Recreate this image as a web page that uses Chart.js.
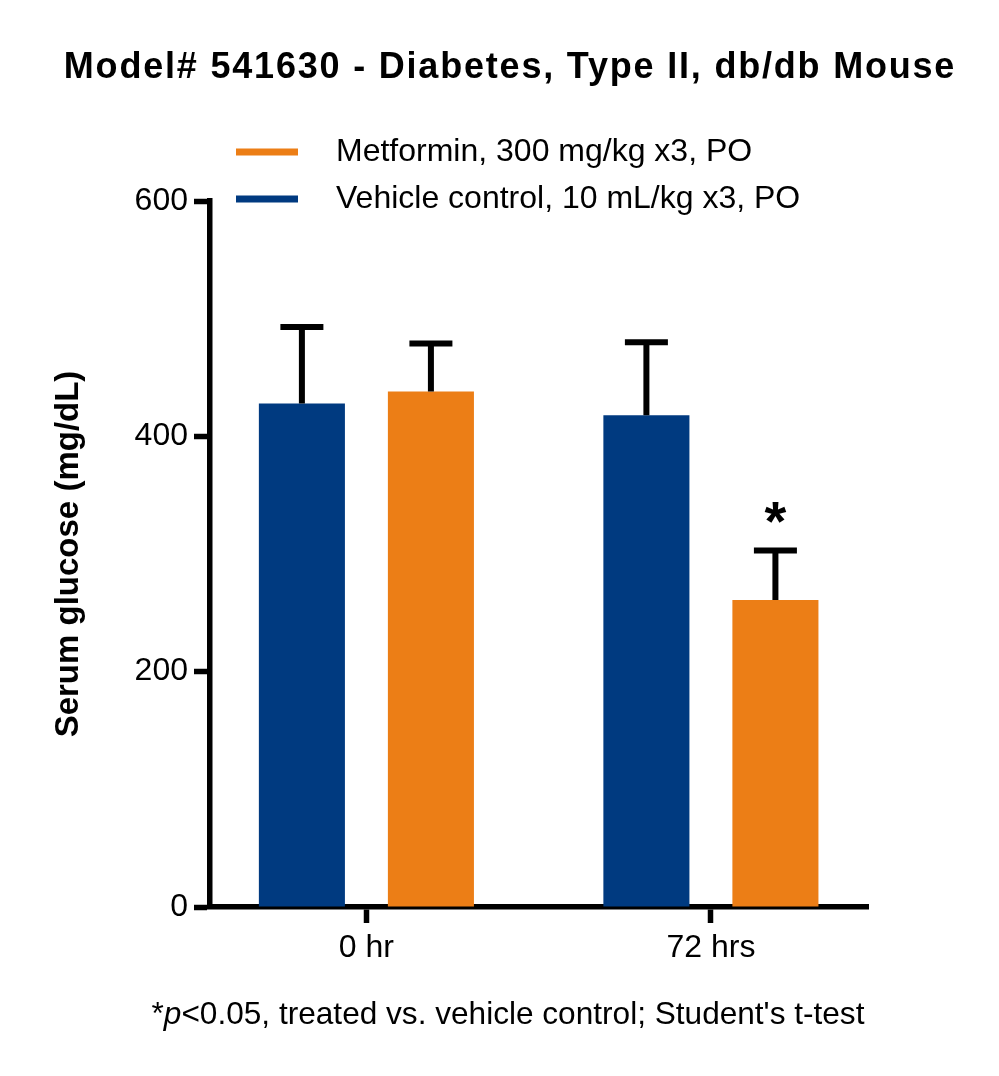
<!DOCTYPE html>
<html>
<head>
<meta charset="utf-8">
<title>Model# 541630 - Diabetes, Type II, db/db Mouse</title>
<script src="https://cdn.jsdelivr.net/npm/chart.js@4.4.0/dist/chart.umd.min.js"></script>
<style>
    body { margin: 0; background: #fff; }
    #wrap { width: 999px; height: 1076px; }
</style>
</head>
<body>
<div id="wrap"><canvas id="glucose-chart" width="999" height="1076"></canvas></div>
<script>
const categories = ['0 hr', '72 hrs']
const yTicks = [0, 200, 400, 600]
const vehicleMeans = [428, 418]
const vehicleErrors = [65, 62]
const metforminMeans = [438, 261]
const metforminErrors = [41, 42]
const metforminSignificant = [false, true]

const chartTitle = 'Model# 541630 - Diabetes, Type II, db/db Mouse'
const footnote = ['*', 'p', '<0.05, treated vs. vehicle control; Student\'s t-test']
const fontFamily = '"Liberation Sans", Arial, Helvetica, sans-serif'

Chart.defaults.font.family = fontFamily
Chart.defaults.color = '#000'

function toPoints(values) {
    return values.map((v, i) => ({ x: i, y: v }))
}

// error bars (upper only) + significance stars
const errorBarPlugin = {
    id: 'errorBars',
    afterDatasetsDraw(chart) {
        const ctx = chart.ctx
        const yScale = chart.scales.y
        chart.data.datasets.forEach((ds, di) => {
            const meta = chart.getDatasetMeta(di)
            meta.data.forEach((bar, i) => {
                const top = yScale.getPixelForValue(ds.data[i].y + ds.errors[i])
                ctx.save()
                ctx.strokeStyle = '#000'
                ctx.lineWidth = 6
                ctx.beginPath()
                ctx.moveTo(bar.x, bar.y)
                ctx.lineTo(bar.x, top)
                ctx.moveTo(bar.x - 21.5, top)
                ctx.lineTo(bar.x + 21.5, top)
                ctx.stroke()
                if (ds.significant && ds.significant[i]) {
                    ctx.fillStyle = '#000'
                    ctx.font = 'bold 56px ' + fontFamily
                    ctx.textAlign = 'center'
                    ctx.textBaseline = 'alphabetic'
                    ctx.fillText('*', bar.x, top - 10)
                }
                ctx.restore()
            })
        })
    }
}

// title, stacked legend and footnote
const textPlugin = {
    id: 'chartTexts',
    afterDraw(chart) {
        const ctx = chart.ctx
        ctx.save()
        ctx.fillStyle = '#000'
        ctx.textBaseline = 'middle'

        ctx.font = 'bold 36px ' + fontFamily
        ctx.textAlign = 'center'
        ctx.letterSpacing = '1.8px'
        ctx.fillText(chartTitle, 510, 68)
        ctx.letterSpacing = '0px'

        const legendOrder = chart.data.datasets.slice().reverse()
        ctx.font = '32px ' + fontFamily
        ctx.textAlign = 'left'
        legendOrder.forEach((ds, i) => {
            const y = 152 + i * 47
            ctx.strokeStyle = ds.backgroundColor
            ctx.lineWidth = 7
            ctx.beginPath()
            ctx.moveTo(236, y)
            ctx.lineTo(298, y)
            ctx.stroke()
            ctx.fillText(ds.label, 336, y)
        })

        const fonts = ['31.6px ', 'italic 31.6px ', '31.6px '].map(f => f + fontFamily)
        let total = 0
        footnote.forEach((part, i) => {
            ctx.font = fonts[i]
            total += ctx.measureText(part).width
        })
        let x = 508 - total / 2
        footnote.forEach((part, i) => {
            ctx.font = fonts[i]
            ctx.fillText(part, x, 1015)
            x += ctx.measureText(part).width
        })
        ctx.restore()
    }
}

document.addEventListener('DOMContentLoaded', function () {
    var ctx = document.getElementById('glucose-chart').getContext('2d')

    var data = {
        datasets: [{
            label: 'Vehicle control, 10 mL/kg x3, PO',
            data: toPoints(vehicleMeans),
            errors: vehicleErrors,
            backgroundColor: '#003A80',
            borderWidth: 0
        }, {
            label: 'Metformin, 300 mg/kg x3, PO',
            data: toPoints(metforminMeans),
            errors: metforminErrors,
            significant: metforminSignificant,
            backgroundColor: '#EC7E16',
            borderWidth: 0
        }]
    }

    var options = {
        responsive: false,
        animation: false,
        devicePixelRatio: 1,
        categoryPercentage: 0.749,
        barPercentage: 0.667,
        layout: {
            padding: { top: 201, right: 131, bottom: 0, left: 0 }
        },
        plugins: {
            legend: { display: false },
            tooltip: { enabled: false },
            title: { display: false }
        },
        scales: {
            x: {
                type: 'linear',
                min: -0.454,
                max: 1.456,
                offset: false,
                afterBuildTicks: (axis) => {
                    axis.ticks = categories.map((c, i) => ({ value: i }))
                },
                afterFit: (axis) => {
                    axis.height = 169
                },
                ticks: {
                    callback: (value) => categories[value],
                    font: { size: 32 },
                    color: '#000',
                    padding: 6,
                    maxRotation: 0,
                    autoSkip: false
                },
                grid: {
                    offset: false,
                    drawOnChartArea: false,
                    drawTicks: true,
                    tickLength: 16,
                    tickWidth: 5.5,
                    tickColor: '#000'
                },
                border: { display: true, color: '#000', width: 5.5 }
            },
            y: {
                min: 0,
                max: 600,
                afterBuildTicks: (axis) => {
                    axis.ticks = yTicks.map(v => ({ value: v }))
                },
                afterFit: (axis) => {
                    axis.width = 210
                },
                ticks: {
                    font: { size: 32 },
                    color: '#000',
                    padding: 6
                },
                grid: {
                    drawOnChartArea: false,
                    drawTicks: true,
                    tickLength: 16,
                    tickWidth: 5.5,
                    tickColor: '#000'
                },
                border: { display: true, color: '#000', width: 5.5 },
                title: {
                    display: true,
                    text: 'Serum glucose (mg/dL)',
                    font: { size: 33, weight: 'bold' },
                    color: '#000',
                    padding: { top: 49, bottom: 0 }
                }
            }
        }
    }

    new Chart(ctx, {
        type: 'bar',
        data: data,
        options: options,
        plugins: [errorBarPlugin, textPlugin]
    })
})
</script>
</body>
</html>
